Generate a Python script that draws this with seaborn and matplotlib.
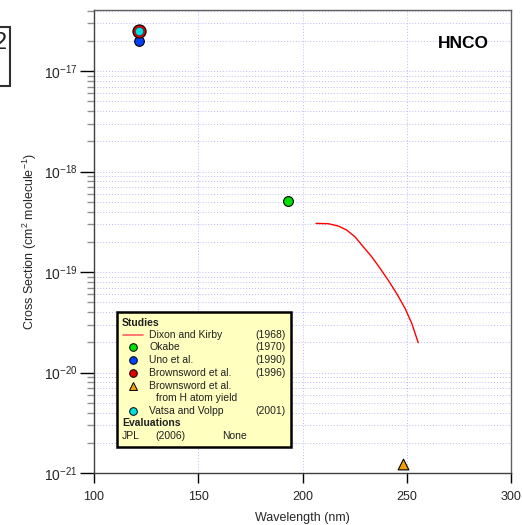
import numpy as np
import pandas as pd
import matplotlib
matplotlib.use("Agg")
import matplotlib.pyplot as plt
import matplotlib.ticker as mticker
from matplotlib.patches import Rectangle
import seaborn as sns

# ---- data ----
dixon_wl = [206.5, 212.4, 217.2, 221.2, 225.2, 229.2, 233.2, 237.2, 241.1, 245.2, 249.2, 252.4, 255.5]
dixon_xs = [3.05e-19, 3.03e-19, 2.87e-19, 2.62e-19, 2.24e-19, 1.78e-19, 1.42e-19, 1.09e-19,
            8.3e-20, 6.1e-20, 4.35e-20, 3.09e-20, 1.98e-20]
okabe_wl = [193.0]
okabe_xs = [5.1e-19]
uno_wl = [121.6]
uno_xs = [2.0e-17]
brown_wl = [121.6]
brown_xs = [2.5e-17]
brownH_wl = [248.0]
brownH_xs = [1.23e-21]
vatsa_wl = [121.6]
vatsa_xs = [2.5e-17]
x_ticks = [100, 150, 200, 250, 300]
y_ticks = [1e-21, 1e-20, 1e-19, 1e-18, 1e-17]

sns.set_theme(style="white")
plt.rcParams['font.family'] = ['Liberation Sans', 'DejaVu Sans']
plt.rcParams['mathtext.fontset'] = 'custom'
plt.rcParams['mathtext.rm'] = 'Liberation Sans'
plt.rcParams['mathtext.it'] = 'Liberation Sans'

W, H = 522, 525
YMIN, YMAX = 1e-21, 4.06e-17
fig = plt.figure(figsize=(W / 100, H / 100), dpi=100)
ax = fig.add_axes([94 / W, 1 - 473 / H, (511 - 94) / W, (473 - 10) / H])

ax.set_yscale('log')

# minor positions
minor = [m * 10.0 ** k for k in range(-21, -16) for m in range(2, 10) if m * 10.0 ** k <= YMAX]

# grid
grid_kw = dict(color='#8c8cf0', linestyle=(0, (1, 2)), linewidth=0.7, alpha=0.6, zorder=0)
for v in y_ticks + minor:
    ax.axhline(v, **grid_kw)
for xv in [150, 200, 250]:
    ax.axvline(xv, **grid_kw)

# data
sns.lineplot(x=dixon_wl, y=dixon_xs, ax=ax, color='red', linewidth=1.0, zorder=3)
sns.scatterplot(x=okabe_wl, y=okabe_xs, ax=ax, color='#00e000', edgecolor='black', linewidth=0.8, s=50, zorder=4)
sns.scatterplot(x=brown_wl, y=brown_xs, ax=ax, color='#e00000', edgecolor='black', linewidth=0.8, s=90, zorder=4)
sns.scatterplot(x=uno_wl, y=uno_xs, ax=ax, color='#0040ff', edgecolor='black', linewidth=0.8, s=48, zorder=3.5)
sns.scatterplot(x=vatsa_wl, y=vatsa_xs, ax=ax, color='#00e0e0', edgecolor='#404040', linewidth=0.6, s=36, zorder=5)
sns.scatterplot(x=brownH_wl, y=brownH_xs, ax=ax, color='#f0a000', edgecolor='black', linewidth=0.8, s=60,
                marker='^', zorder=4)

ax.set_xlim(100, 300)
ax.set_ylim(YMIN, YMAX)

# ticks
ax.set_xticks(x_ticks)
ax.set_xticklabels([str(v) for v in x_ticks])
ax.set_yticks(y_ticks)
ax.set_yticklabels([r"$10^{%d}$" % round(np.log10(v)) for v in y_ticks])
ax.set_yticks(minor, minor=True)
ax.set_yticklabels([], minor=True)
ax.tick_params(axis='x', which='major', direction='out', length=7, width=1, color='black',
               labelsize=9, pad=6, bottom=True)
ax.tick_params(axis='y', which='major', direction='out', length=10, width=1, color='black',
               labelsize=10, pad=2, left=True)
ax.tick_params(axis='y', which='minor', direction='out', length=5, width=1, color='#909090', left=True)

for s in ax.spines.values():
    s.set_color('#606060')
    s.set_linewidth(1.0)
ax.spines['left'].set_color('#404040')
ax.spines['bottom'].set_color('#404040')

ax.set_xlabel('Wavelength (nm)', fontsize=9)
ax.set_ylabel(r'Cross Section (cm$^{2}$ molecule$^{-1}$)', fontsize=9)
ax.xaxis.set_label_coords(0.5, (473 - 518) / 463)
ax.yaxis.set_label_coords((30 - 94) / 417, 0.5)
ax.xaxis.label.set_va('center')
ax.yaxis.label.set_va('center')

# ---- helpers for pixel placement ----
def px(x, y):
    return (x / W, 1 - y / H)

fig.text(*px(463, 44), 'HNCO', ha='center', va='center',
         fontsize=12.5, fontweight='bold', color='black', zorder=6)

# ---- legend box ----
x0, y0, x1, y1 = 117, 312, 291, 447
rect = Rectangle(px(x0, y1), (x1 - x0) / W, (y1 - y0) / H, transform=fig.transFigure,
                 facecolor='#ffffc0', edgecolor='black', linewidth=1.8, zorder=10)
fig.patches.append(rect)

fs = 7.5
def t(x, y, s, **kw):
    fig.text(*px(x, y), s, fontsize=fs, va='center', zorder=11, color='#202020', **kw)

t(122, 323, 'Studies', fontweight='bold', ha='left')
t(122, 423, 'Evaluations', fontweight='bold', ha='left')
rows = [
    (335, 'Dixon and Kirby', '(1968)'),
    (347, 'Okabe', '(1970)'),
    (360, 'Uno et al.', '(1990)'),
    (373, 'Brownsword et al.', '(1996)'),
    (386, 'Brownsword et al.', ''),
    (411, 'Vatsa and Volpp', '(2001)'),
]
for y, name, yr in rows:
    t(149, y, name, ha='left')
    if yr:
        t(286, y, yr, ha='right')
t(156, 398, 'from H atom yield', ha='left')
t(122, 436, 'JPL', ha='left')
t(155, 436, '(2006)', ha='left')
t(222, 436, 'None', ha='left')

# legend symbols
fig.lines.append(plt.Line2D([123 / W, 143 / W], [1 - 335 / H] * 2, transform=fig.transFigure,
                            color='#ff6060', linewidth=1.2, zorder=11))
sym = [(347, 'o', '#00e000'), (360, 'o', '#0040ff'), (373, 'o', '#e00000'),
       (386, '^', '#f0a000'), (411, 'o', '#00e0e0')]
for y, mk, c in sym:
    fig.lines.append(plt.Line2D([133 / W], [1 - y / H], transform=fig.transFigure, marker=mk,
                                markersize=5.5, markerfacecolor=c, markeredgecolor='black',
                                markeredgewidth=0.7, linestyle='none', zorder=11))

# cropped neighbouring box at top-left
fig.patches.append(Rectangle(px(-12, 86), 22 / W, 59 / H, transform=fig.transFigure,
                             facecolor='white', edgecolor='#303030', linewidth=1.5))
fig.text(*px(0, 43), '2', fontsize=17, ha='center', va='center', color='#202020')

fig.savefig('out.png', dpi=100)
